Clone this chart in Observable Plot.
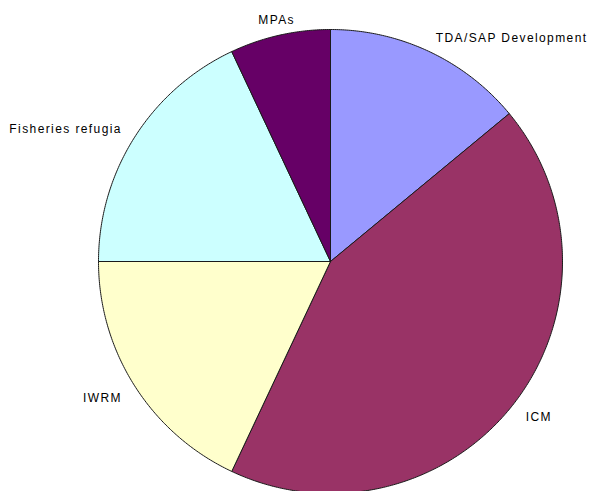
<!DOCTYPE html>
<html>
<head>
<meta charset="utf-8">
<script src="https://cdn.jsdelivr.net/npm/d3@7"></script>
<script src="https://cdn.jsdelivr.net/npm/@observablehq/plot@0.6"></script>
<style>
  html, body { margin: 0; padding: 0; background: #fff; }
  #chart svg { display: block; }
  #chart svg text { letter-spacing: 1.4px; }
</style>
</head>
<body>
<div id="chart"></div>
<script>
const categories = ["TDA/SAP Development", "ICM", "IWRM", "Fisheries refugia", "MPAs"];
const values = [14, 43, 18, 18, 7];
const colors = ["#9999FF", "#993366", "#FFFFCC", "#CCFFFF", "#660066"];

const W = 592, H = 491;
const cx = 330, cy = 261, R = 232;

const arcs = d3.pie().sort(null).value(d => d.value)(
  categories.map((name, i) => ({name, value: values[i]}))
);

// polygon points for each slice (unit circle, y up)
const pts = [];
for (const a of arcs) {
  const name = a.data.name;
  pts.push({name, x: 0, y: 0});
  const n = Math.max(2, Math.ceil((a.endAngle - a.startAngle) / (Math.PI / 360)));
  for (let k = 0; k <= n; k++) {
    const t = a.startAngle + (a.endAngle - a.startAngle) * k / n;
    pts.push({name, x: Math.sin(t), y: Math.cos(t)});
  }
  pts.push({name, x: 0, y: 0});
}

const labels = arcs.map(a => {
  const m = (a.startAngle + a.endAngle) / 2;
  const s = Math.sin(m), c = Math.cos(m);
  return {
    name: a.data.name,
    x: 1.065 * s,
    y: 1.065 * c,
    anchor: Math.abs(s) < 0.3 ? "middle" : (s > 0 ? "start" : "end"),
    line: c < -0.2 ? "top" : "middle"
  };
});

const textMarks = [];
for (const anc of ["start", "middle", "end"]) {
  for (const la of ["top", "middle"]) {
    textMarks.push(Plot.text(labels.filter(d => d.anchor === anc && d.line === la), {
      x: "x", y: "y", text: "name", textAnchor: anc, lineAnchor: la,
      fontSize: 12, fill: "#000"
    }));
  }
}

const chart = Plot.plot({
  width: W,
  height: H,
  margin: 0,
  style: {background: "#fff", fontFamily: "Liberation Sans, Arial, sans-serif"},
  x: {domain: [-cx / R, (W - cx) / R], range: [0, W], axis: null},
  y: {domain: [cy / R, -(H - cy) / R], range: [0, H], axis: null},
  color: {domain: categories, range: colors},
  marks: [
    Plot.line(pts, {x: "x", y: "y", z: "name", fill: "name", stroke: "#1a1a1a", strokeWidth: 1, curve: "linear"}),
    ...textMarks
  ]
});
document.getElementById("chart").appendChild(chart);
</script>
</body>
</html>
